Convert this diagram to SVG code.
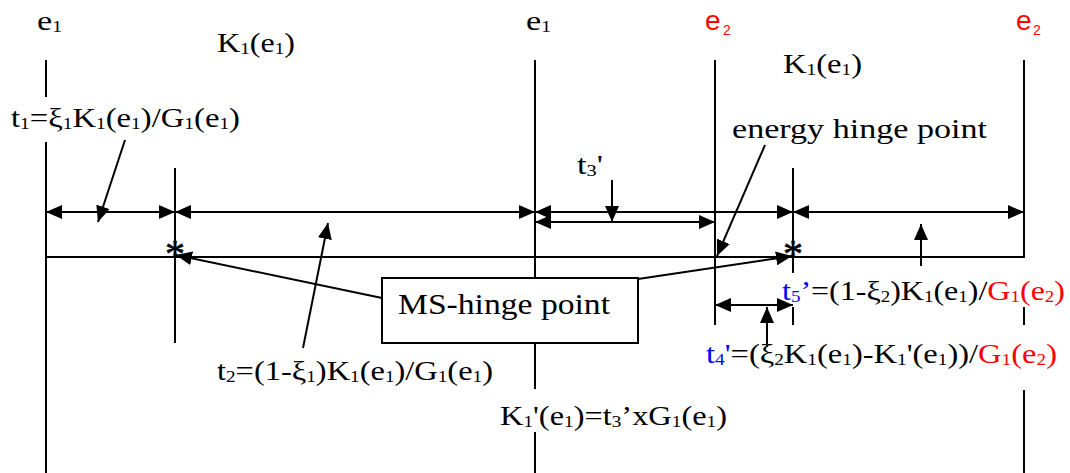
<svg xmlns="http://www.w3.org/2000/svg" width="1070" height="473" viewBox="0 0 1070 473">
<defs>
<marker id="ah" markerUnits="userSpaceOnUse" markerWidth="16" markerHeight="14" refX="16" refY="7" orient="auto-start-reverse" viewBox="0 0 16 14"><path d="M0,0 L16,7 L0,14 z" fill="#000"/></marker>
</defs>
<style>
.ln{stroke:#000;stroke-width:2;fill:none}
.ar{stroke:#000;stroke-width:2;fill:none;marker-end:url(#ah)}
.da{stroke:#000;stroke-width:2;fill:none;marker-start:url(#ah);marker-end:url(#ah)}
text{font-family:"Liberation Serif","Times New Roman",serif;font-size:27px;fill:#000}
.s{font-size:16px;baseline-shift:-2px}
.big{font-size:30px}
.e1{font-size:28px}
.e2{font-family:"Liberation Sans",Arial,sans-serif;font-size:28px;fill:#ff0000}
.e2s{font-family:"Liberation Sans",Arial,sans-serif;font-size:14px;fill:#ff0000}
.r{fill:#ff0000}
.b{fill:#0000ff}
.ast{font-size:40px;text-anchor:middle;stroke:#000;stroke-width:0.6}
</style>
<rect width="1070" height="473" fill="#fff"/>

<g id="time-axes">
<line class="ln" x1="46" y1="60" x2="46" y2="97"/>
<line class="ln" x1="46" y1="142" x2="46" y2="473"/>
<line class="ln" x1="175" y1="168" x2="175" y2="343"/>
<line class="ln" x1="535" y1="60" x2="535" y2="278"/>
<line class="ln" x1="535" y1="343" x2="535" y2="389"/>
<line class="ln" x1="535" y1="432" x2="535" y2="473"/>
<line class="ln" x1="715" y1="60" x2="715" y2="325"/>
<line class="ln" x1="793" y1="168" x2="793" y2="273"/>
<line class="ln" x1="793" y1="307" x2="793" y2="325"/>
<line class="ln" x1="1024" y1="60" x2="1024" y2="258"/>
<line class="ln" x1="1024" y1="307" x2="1024" y2="325"/>
<line class="ln" x1="1024" y1="390" x2="1024" y2="473"/>
<line class="ln" x1="46" y1="257" x2="1024" y2="257"/>
</g>

<g id="connectors">
<line class="da" x1="46" y1="212" x2="175" y2="212"/>
<line class="da" x1="175" y1="212" x2="535" y2="212"/>
<line class="da" x1="535" y1="212" x2="793" y2="212"/>
<line class="da" x1="793" y1="212" x2="1024" y2="212"/>
<line class="da" x1="535" y1="222" x2="715" y2="222"/>
<line class="da" x1="715" y1="305" x2="793" y2="305"/>
<line class="ar" x1="125" y1="140" x2="98" y2="222"/>
<line class="ar" x1="303" y1="348" x2="328" y2="223"/>
<line class="ar" x1="612" y1="180" x2="612" y2="222"/>
<line class="ar" x1="765" y1="145" x2="717" y2="256"/>
<line class="ar" x1="382" y1="298" x2="176" y2="255"/>
<line class="ar" x1="638" y1="279" x2="792" y2="256"/>
<line class="ar" x1="921" y1="266" x2="921" y2="224"/>
<line class="ar" x1="767" y1="347" x2="767" y2="307"/>
</g>

<g id="hinge-marks">
<text class="ast" x="175" y="267">*</text>
<text class="ast" x="793" y="267">*</text>
</g>

<g id="ms-hinge-box">
<rect x="382" y="278" width="256" height="65" fill="#fff" stroke="#000" stroke-width="2"/>
<text class="big" x="398" y="314" textLength="212" lengthAdjust="spacingAndGlyphs">MS-hinge point</text>
</g>

<g id="labels">
<text class="e1" x="37" y="30" textLength="25" lengthAdjust="spacingAndGlyphs">e<tspan class="s">1</tspan></text>
<text class="e1" x="526" y="30" textLength="25" lengthAdjust="spacingAndGlyphs">e<tspan class="s">1</tspan></text>
<text class="e2" x="705" y="30">e</text><text class="e2s" x="723" y="35">2</text>
<text class="e2" x="1016" y="30">e</text><text class="e2s" x="1033" y="35">2</text>
<text x="217" y="52" textLength="78" lengthAdjust="spacingAndGlyphs">K<tspan class="s">1</tspan>(e<tspan class="s">1</tspan>)</text>
<text x="783" y="73" textLength="79" lengthAdjust="spacingAndGlyphs">K<tspan class="s">1</tspan>(e<tspan class="s">1</tspan>)</text>
<text x="11" y="127" textLength="229" lengthAdjust="spacingAndGlyphs">t<tspan class="s">1</tspan>=ξ<tspan class="s">1</tspan>K<tspan class="s">1</tspan>(e<tspan class="s">1</tspan>)/G<tspan class="s">1</tspan>(e<tspan class="s">1</tspan>)</text>
<text x="732" y="138" textLength="255" lengthAdjust="spacingAndGlyphs">energy hinge point</text>
<text x="577" y="174" textLength="26" lengthAdjust="spacingAndGlyphs">t<tspan class="s">3</tspan>'</text>
<text x="217" y="380" textLength="276" lengthAdjust="spacingAndGlyphs">t<tspan class="s">2</tspan>=(1-ξ<tspan class="s">1</tspan>)K<tspan class="s">1</tspan>(e<tspan class="s">1</tspan>)/G<tspan class="s">1</tspan>(e<tspan class="s">1</tspan>)</text>
<text x="500" y="425" textLength="227" lengthAdjust="spacingAndGlyphs">K<tspan class="s">1</tspan>'(e<tspan class="s">1</tspan>)=t<tspan class="s">3</tspan>’xG<tspan class="s">1</tspan>(e<tspan class="s">1</tspan>)</text>
<text x="782" y="300" textLength="283" lengthAdjust="spacingAndGlyphs"><tspan class="b">t</tspan><tspan class="s b">5</tspan><tspan class="b">’</tspan>=(1-ξ<tspan class="s">2</tspan>)K<tspan class="s">1</tspan>(e<tspan class="s">1</tspan>)/<tspan class="r">G</tspan><tspan class="s r">1</tspan><tspan class="r">(e</tspan><tspan class="s r">2</tspan><tspan class="r">)</tspan></text>
<text x="706" y="363" textLength="351" lengthAdjust="spacingAndGlyphs"><tspan class="b">t</tspan><tspan class="s b">4</tspan><tspan class="b">'</tspan>=(ξ<tspan class="s">2</tspan>K<tspan class="s">1</tspan>(e<tspan class="s">1</tspan>)-K<tspan class="s">1</tspan>'(e<tspan class="s">1</tspan>))/<tspan class="r">G</tspan><tspan class="s r">1</tspan><tspan class="r">(e</tspan><tspan class="s r">2</tspan><tspan class="r">)</tspan></text>
</g>
</svg>
